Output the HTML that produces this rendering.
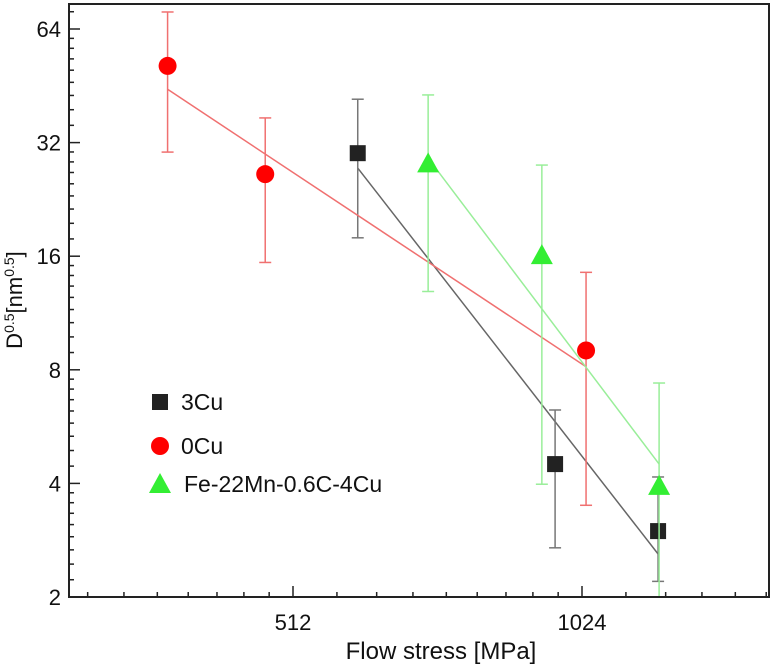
<!DOCTYPE html>
<html><head><meta charset="utf-8"><style>
html,body{margin:0;padding:0;background:#fff;}
svg{display:block;font-family:"Liberation Sans",Arial,sans-serif;}
</style></head><body>
<svg id="chart" width="774" height="666" viewBox="0 0 774 666"></svg>
<script>
// ---- data ----
const xCu3 = [598, 960, 1229];
const yCu3 = [30.0, 4.5, 2.99];
const loCu3 = [17.9, 2.7, 2.2];
const hiCu3 = [41.7, 6.26, 4.16];
const fitCu3X = [598, 1229];
const fitCu3Y = [27.4, 2.6];

const xCu0 = [379, 479, 1034];
const yCu0 = [51.1, 26.4, 9.0];
const loCu0 = [30.2, 15.4, 3.5];
const hiCu0 = [71.0, 37.2, 14.5];
const fitCu0X = [379, 1034];
const fitCu0Y = [44.3, 8.15];

const xCu4 = [708, 930, 1232];
const yCu4 = [28.2, 16.1, 3.94];
const loCu4 = [12.9, 3.98, 1.5];
const hiCu4 = [42.8, 27.9, 7.38];
const fitCu4X = [708, 1232];
const fitCu4Y = [29.1, 4.5];

const yTicks = [2, 4, 8, 16, 32, 64];
const xTicks = [512, 1024];
const legendLabels = ["3Cu", "0Cu", "Fe-22Mn-0.6C-4Cu"];

// ---- axes ----
const L = 69, R = 769, T = 4, B = 597;
function sx(v){ return 293 + Math.log2(v/512)*289; }
function sy(v){ return 29 + Math.log2(64/v)*113.6; }
const NS = "http://www.w3.org/2000/svg";
const svg = document.getElementById('chart');
function mk(tag, attrs, parent){
  const e = document.createElementNS(NS, tag);
  for (const k in attrs) e.setAttribute(k, attrs[k]);
  (parent||svg).appendChild(e);
  return e;
}
const clip = mk('clipPath', {id:'pc'});
mk('rect', {x:L, y:T, width:R-L, height:B-T}, clip);

const plot = mk('g', {'clip-path':'url(#pc)'});



function series(name, xs, ys, lo, hi, fx, fy, lineCol, errCol, marker){
  const g = mk('g', {}, plot);
  
  
  const fl = mk('line', {x1:sx(fx[0]), y1:sy(fy[0]), x2:sx(fx[1]), y2:sy(fy[1]), stroke:lineCol, 'stroke-width':1.5}, g);
  
  
  for (let i=0;i<xs.length;i++){
    const x = sx(xs[i]);
    const eb = mk('g', {stroke:errCol, 'stroke-width':1.5}, g);
    
    
    mk('line', {x1:x, y1:sy(hi[i]), x2:x, y2:sy(lo[i])}, eb);
    mk('line', {x1:x-6, y1:sy(hi[i]), x2:x+6, y2:sy(hi[i])}, eb);
    mk('line', {x1:x-6, y1:sy(lo[i]), x2:x+6, y2:sy(lo[i])}, eb);
  }
  for (let i=0;i<xs.length;i++){
    const m = marker(sx(xs[i]), sy(ys[i]), g);
    
    
  }
}
const sq = (x,y,p)=>mk('rect', {x:x-8, y:y-8, width:16, height:16, fill:'#222'}, p);
const ci = (x,y,p)=>mk('circle', {cx:x, cy:y, r:9, fill:'#ff0000'}, p);
const tr = (x,y,p)=>mk('polygon', {points:`${x},${y-11} ${x-11},${y+9} ${x+11},${y+9}`, fill:'#33ee33'}, p);

series('cu3', xCu3, yCu3, loCu3, hiCu3, fitCu3X, fitCu3Y, '#666', '#777', sq);
series('cu0', xCu0, yCu0, loCu0, hiCu0, fitCu0X, fitCu0Y, '#f07070', '#f07070', ci);
series('cu4', xCu4, yCu4, loCu4, hiCu4, fitCu4X, fitCu4Y, '#99ee99', '#99ee99', tr);

const frame = mk('rect', {x:L, y:T, width:R-L, height:B-T, fill:'none', stroke:'#222', 'stroke-width':2});



const yax = mk('g', {stroke:'#222', 'stroke-width':1.5});


for (const v of yTicks){
  mk('line', {x1:L, y1:sy(v), x2:L+11, y2:sy(v)}, yax);
  for (let k=1;k<=8;k++){
    const mv = v*(1+k/9), y = sy(mv);
    if (y > T+1) mk('line', {x1:L, y1:y, x2:L+5, y2:y}, yax);
  }
  const t = mk('text', {x:L-8, y:sy(v)+8, 'text-anchor':'end', 'font-size':22, fill:'#111', stroke:'none'});
  t.textContent = v;
  
  
}
const xax = mk('g', {stroke:'#222', 'stroke-width':1.5});


for (const base of [256, 512, 1024]){
  for (let k=1;k<=8;k++){
    const x = sx(base*(1+k/9));
    if (x > L+1 && x < R-1) mk('line', {x1:x, y1:B, x2:x, y2:B-5}, xax);
  }
}
for (const v of xTicks){
  mk('line', {x1:sx(v), y1:B, x2:sx(v), y2:B-11}, xax);
  const t = mk('text', {x:sx(v), y:630, 'text-anchor':'middle', 'font-size':22, fill:'#111', stroke:'none'});
  t.textContent = v;
  
  
}
</script>
<script>
(function(){
  const svg = document.getElementById('chart');
  const NS = "http://www.w3.org/2000/svg";
  const xt = document.createElementNS(NS,'text');
  xt.setAttribute('x', 441); xt.setAttribute('y', 659);
  xt.setAttribute('text-anchor','middle'); xt.setAttribute('font-size', 24); xt.setAttribute('fill','#111');
  xt.textContent = 'Flow stress [MPa]';
  
  
  svg.appendChild(xt);
  const yt = document.createElementNS(NS,'text');
  yt.setAttribute('transform','translate(22,300) rotate(-90)');
  yt.setAttribute('text-anchor','middle'); yt.setAttribute('font-size', 22); yt.setAttribute('fill','#111');
  yt.innerHTML = 'D<tspan dy="-8" font-size="14">0.5</tspan><tspan dy="8">[nm</tspan><tspan dy="-8" font-size="14">0.5</tspan><tspan dy="8">]</tspan>';
  
  
  svg.appendChild(yt);
  const lg = document.createElementNS(NS,'g');
  
  
  svg.appendChild(lg);
  const ys = [402, 446, 484];
  const shapes = [
    ['rect', {x:152, y:394, width:16, height:16, fill:'#222'}],
    ['circle', {cx:160, cy:446, r:9, fill:'#ff0000'}],
    ['polygon', {points:'160,473 149,493 171,493', fill:'#33ee33'}]
  ];
  const names = ['3Cu','0Cu','Fe-22Mn-0.6C-4Cu'];
  for (let i=0;i<3;i++){
    const e = document.createElementNS(NS, shapes[i][0]);
    for (const k in shapes[i][1]) e.setAttribute(k, shapes[i][1][k]);
    
    
    lg.appendChild(e);
    const t = document.createElementNS(NS,'text');
    t.setAttribute('x', i==2?184:181); t.setAttribute('y', ys[i]+8);
    t.setAttribute('font-size', 23); t.setAttribute('fill','#111');
    t.textContent = names[i];
    
    
    lg.appendChild(t);
  }
})();
</script>
</body></html>
